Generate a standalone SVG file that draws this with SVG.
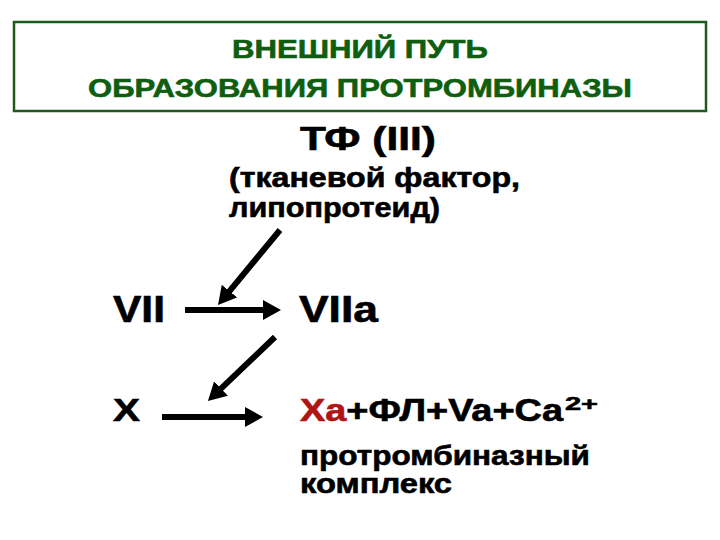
<svg xmlns="http://www.w3.org/2000/svg" width="720" height="540" viewBox="0 0 720 540">
<defs>
<style>
text{font-family:"Liberation Sans",Arial,sans-serif;font-weight:bold;fill:#000;stroke:#000;stroke-width:0.6}
.title{fill:#0f5e0f;stroke:#0f5e0f;font-size:25px;text-anchor:middle}
.red{fill:#b01515;stroke:#b01515}
.line{stroke:#000;stroke-width:6;fill:none}
</style>
<marker id="ah" viewBox="0 0 18 20" refX="8" refY="10" markerWidth="18" markerHeight="20" markerUnits="userSpaceOnUse" orient="auto">
<path d="M0,0 L18,10 L0,20 z" fill="#000"/>
</marker>
</defs>
<rect width="720" height="540" fill="#fff"/>
<g id="header">
<rect x="14" y="22" width="692" height="89" fill="none" stroke="#1e5a1e" stroke-width="2.5"/>
<text class="title" x="360" y="58" textLength="256" lengthAdjust="spacingAndGlyphs">ВНЕШНИЙ ПУТЬ</text>
<text class="title" x="360" y="97" textLength="544" lengthAdjust="spacingAndGlyphs">ОБРАЗОВАНИЯ ПРОТРОМБИНАЗЫ</text>
</g>
<g id="tf">
<text x="300" y="150" style="font-size:33px" textLength="136" lengthAdjust="spacingAndGlyphs">ТФ (III)</text>
<text x="229" y="187" style="font-size:27px" textLength="291" lengthAdjust="spacingAndGlyphs">(тканевой фактор,</text>
<text x="229" y="217" style="font-size:27px" textLength="211" lengthAdjust="spacingAndGlyphs">липопротеид)</text>
</g>
<g id="vii"><text x="113" y="322" style="font-size:36px" textLength="52" lengthAdjust="spacingAndGlyphs">VII</text></g>
<g id="viia"><text x="299" y="322" style="font-size:36px" textLength="79" lengthAdjust="spacingAndGlyphs">VIIa</text></g>
<g id="x"><text x="113" y="421" style="font-size:31px" textLength="27" lengthAdjust="spacingAndGlyphs">X</text></g>
<g id="complex">
<text x="300" y="421" style="font-size:31px" textLength="263" lengthAdjust="spacingAndGlyphs"><tspan class="red">Xa</tspan>+ФЛ+Va+Ca</text>
<text x="565" y="410" style="font-size:19px" textLength="33" lengthAdjust="spacingAndGlyphs">2+</text>
<text x="300" y="465" style="font-size:27px" textLength="290" lengthAdjust="spacingAndGlyphs">протромбиназный</text>
<text x="300" y="493" style="font-size:27px" textLength="152" lengthAdjust="spacingAndGlyphs">комплекс</text>
</g>
<g id="connectors">
<line class="line" x1="280" y1="230" x2="224.4" y2="297.3" marker-end="url(#ah)"/>
<line class="line" x1="185" y1="310" x2="271" y2="310" marker-end="url(#ah)"/>
<line class="line" x1="275" y1="337" x2="215.2" y2="394.1" marker-end="url(#ah)"/>
<line class="line" x1="162" y1="417" x2="253" y2="417" marker-end="url(#ah)"/>
</g>
</svg>
